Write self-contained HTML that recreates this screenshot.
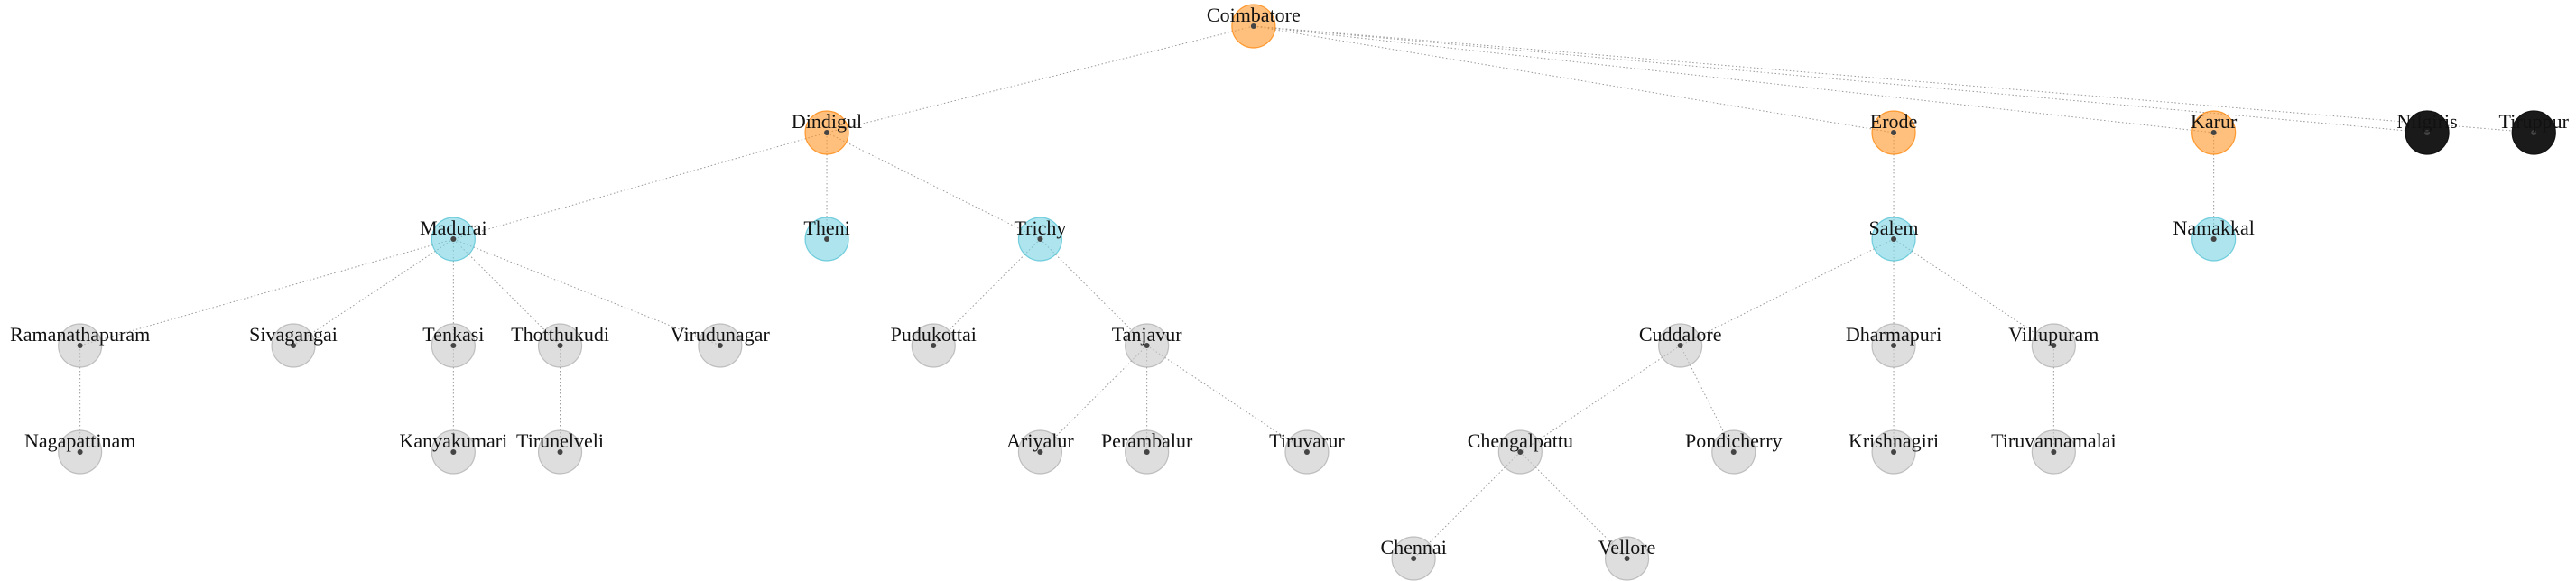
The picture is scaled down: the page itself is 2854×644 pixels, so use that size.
<!DOCTYPE html>
<html><head><meta charset="utf-8">
<style>
html,body{margin:0;padding:0;background:#fff;}
svg{display:block;}
text{font-family:"Liberation Serif",serif;font-size:22px;fill:#111;}
</style></head>
<body>
<svg id="chart" width="2854" height="644" viewBox="0 0 2854 644" xmlns="http://www.w3.org/2000/svg">
<g id="edges"></g>
<g id="nodes"></g>
</svg>
<script>
const names = ["Coimbatore","Dindigul","Erode","Karur","Nilgiris","Tiruppur","Madurai","Theni","Trichy","Salem","Namakkal","Ramanathapuram","Sivagangai","Tenkasi","Thotthukudi","Virudunagar","Pudukottai","Tanjavur","Cuddalore","Dharmapuri","Villupuram","Nagapattinam","Kanyakumari","Tirunelveli","Ariyalur","Perambalur","Tiruvarur","Chengalpattu","Pondicherry","Krishnagiri","Tiruvannamalai","Chennai","Vellore"];
const parents = [null,"Coimbatore","Coimbatore","Coimbatore","Coimbatore","Coimbatore","Dindigul","Dindigul","Dindigul","Erode","Karur","Madurai","Madurai","Madurai","Madurai","Madurai","Trichy","Trichy","Salem","Salem","Salem","Ramanathapuram","Tenkasi","Thotthukudi","Tanjavur","Tanjavur","Tanjavur","Cuddalore","Cuddalore","Dharmapuri","Villupuram","Chengalpattu","Chengalpattu"];
const levels = [0,1,1,1,1,1,2,2,2,2,2,3,3,3,3,3,3,3,3,3,3,4,4,4,4,4,4,4,4,4,4,5,5];
const columns = [23.5,15.5,35.5,41.5,45.5,47.5,8.5,15.5,19.5,35.5,41.5,1.5,5.5,8.5,10.5,13.5,17.5,21.5,31.5,35.5,38.5,1.5,8.5,10.5,19.5,21.5,24.5,28.5,32.5,35.5,38.5,26.5,30.5];
const groups = ["o","o","o","o","k","k","c","c","c","c","c","g","g","g","g","g","g","g","g","g","g","g","g","g","g","g","g","g","g","g","g","g","g"];

const COLW = 59.1, Y0 = 29, LEVH = 118, R = 24;
const xPos = c => c * COLW;
const yPos = l => Y0 + l * LEVH;
const styles = {
  o:{fill:"rgba(255,150,40,0.6)",stroke:"rgba(255,130,0,0.75)"},
  c:{fill:"rgba(120,210,225,0.6)",stroke:"rgba(70,190,210,0.7)"},
  g:{fill:"rgba(200,200,200,0.6)",stroke:"rgba(170,170,170,0.7)"},
  k:{fill:"#1a1a1a",stroke:"#111"}
};
const NS = "http://www.w3.org/2000/svg";
const eg = document.getElementById("edges"), ng = document.getElementById("nodes");
const idx = {}; names.forEach((n,i)=>idx[n]=i);

names.forEach((n,i)=>{
  const p = parents[i]; if(p===null) return;
  const j = idx[p];
  const l = document.createElementNS(NS,"line");
  l.setAttribute("x1",xPos(columns[j])); l.setAttribute("y1",yPos(levels[j]));
  l.setAttribute("x2",xPos(columns[i])); l.setAttribute("y2",yPos(levels[i]));
  l.setAttribute("stroke","#999"); l.setAttribute("stroke-width","1");
  l.setAttribute("stroke-dasharray","1.5,2.5");
  
  
  eg.appendChild(l);
});

names.forEach((n,i)=>{
  const x = xPos(columns[i]), y = yPos(levels[i]), s = styles[groups[i]];
  const g = document.createElementNS(NS,"g");
  
  
  const c = document.createElementNS(NS,"circle");
  c.setAttribute("cx",x); c.setAttribute("cy",y); c.setAttribute("r",R);
  c.setAttribute("fill",s.fill); c.setAttribute("stroke",s.stroke); c.setAttribute("stroke-width","1.2");
  
  
  g.appendChild(c);
  const d = document.createElementNS(NS,"circle");
  d.setAttribute("cx",x); d.setAttribute("cy",y); d.setAttribute("r",3);
  d.setAttribute("fill","#444");
  
  
  g.appendChild(d);
  const t = document.createElementNS(NS,"text");
  t.setAttribute("x",x); t.setAttribute("y",y-5);
  t.setAttribute("text-anchor","middle");
  t.textContent = n;
  
  
  g.appendChild(t);
  ng.appendChild(g);
});
</script>
</body></html>
